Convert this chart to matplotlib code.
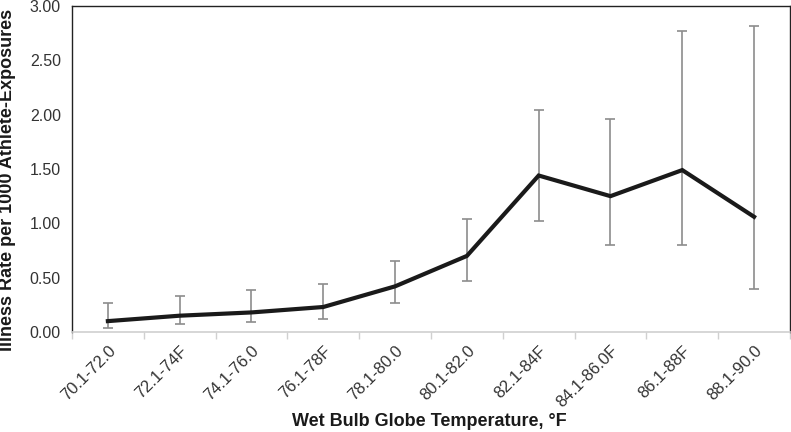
import matplotlib
matplotlib.use("Agg")
import matplotlib.pyplot as plt
import numpy as np

categories = ["70.1-72.0", "72.1-74F", "74.1-76.0", "76.1-78F", "78.1-80.0",
              "80.1-82.0", "82.1-84F", "84.1-86.0F", "86.1-88F", "88.1-90.0"]
rates = [0.10, 0.15, 0.18, 0.23, 0.42, 0.70, 1.44, 1.25, 1.49, 1.06]
ci_low = [0.04, 0.07, 0.09, 0.12, 0.27, 0.47, 1.02, 0.80, 0.80, 0.40]
ci_high = [0.27, 0.33, 0.39, 0.44, 0.65, 1.04, 2.04, 1.96, 2.77, 2.82]
yticks = [0.0, 0.5, 1.0, 1.5, 2.0, 2.5, 3.0]

plt.rcParams['font.family'] = ['Liberation Sans', 'DejaVu Sans']

fig = plt.figure(figsize=(7.91, 4.32), dpi=100)
ax = fig.add_axes([0.091, 0.2315, 0.9077, 0.7546])

x = np.arange(len(categories))
r = np.array(rates)
yerr = np.vstack([r - np.array(ci_low), np.array(ci_high) - r])
ax.errorbar(x, r, yerr=yerr, fmt='none', ecolor='#8c8c8c', elinewidth=1.2,
            capsize=3.5, capthick=1.2, zorder=2)
ax.plot(x, r, color='#1a1a1a', lw=3, zorder=3, solid_joinstyle='miter')

ax.set_xlim(-0.5, len(categories) - 0.5)
ax.set_ylim(0, 3.0)
ax.set_yticks(yticks)
ax.set_yticklabels([f"{v:.2f}" for v in yticks], fontsize=11.5, color='#333333')
ax.tick_params(axis='y', length=0, pad=8)

ax.set_xticks(x)
ax.set_xticklabels(categories, rotation=45, ha='right', rotation_mode='anchor',
                   fontsize=12, color='#333333')
ax.tick_params(axis='x', length=0, pad=8)
ax.set_xticks(np.arange(len(categories) + 1) - 0.5, minor=True)
ax.tick_params(axis='x', which='minor', length=5, color='#d0d0d0', width=1)

for s in ['left', 'top', 'right']:
    ax.spines[s].set_color('#222222')
    ax.spines[s].set_linewidth(1.0)
ax.spines['bottom'].set_color('#d0d0d0')
ax.spines['bottom'].set_linewidth(1.2)

ax.set_ylabel("Illness Rate per 1000 Athlete-Exposures", fontsize=13,
              fontweight='bold', color='#1a1a1a')
ax.set_xlabel("Wet Bulb Globe Temperature, °F", fontsize=13,
              fontweight='bold', color='#1a1a1a')
ax.yaxis.set_label_coords(-0.078, 0.465)
ax.xaxis.set_label_coords(0.498, -0.25)

fig.savefig("out.png", dpi=100)
